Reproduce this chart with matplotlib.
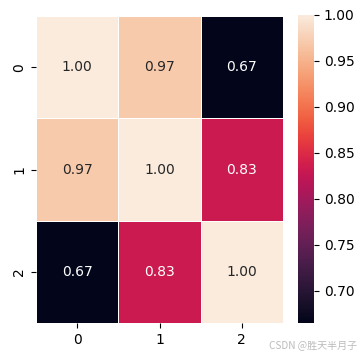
import numpy as np
import matplotlib
matplotlib.use("Agg")
import matplotlib.pyplot as plt
import seaborn as sns

labels = ["0", "1", "2"]
row0 = [1.00, 0.97, 0.665]
row1 = [0.97, 1.00, 0.832]
row2 = [0.665, 0.832, 1.00]
data = np.array([row0, row1, row2])

fig = plt.figure(figsize=(3.64, 3.58), dpi=100)
W, H = 364, 358
ax = fig.add_axes([36 / W, 1 - 323 / H, 247 / W, 307 / H])
cax = fig.add_axes([298 / W, 1 - 323 / H, 16 / W, 308 / H])
sns.heatmap(data, annot=True, fmt=".2f", linewidths=0.5, linecolor="white",
            cmap="rocket", ax=ax, cbar_ax=cax,
            xticklabels=labels, yticklabels=labels)
cax.tick_params(labelsize=10)
for s in cax.spines.values():
    s.set_visible(False)
fig.text(357 / W, 1 - 345 / H, "CSDN @胜天半月子", ha="right", va="center",
         fontsize=7.2, color="#bbbbbb",
         family=["Noto Sans CJK SC", "DejaVu Sans"])
fig.savefig("out.png", dpi=100)
